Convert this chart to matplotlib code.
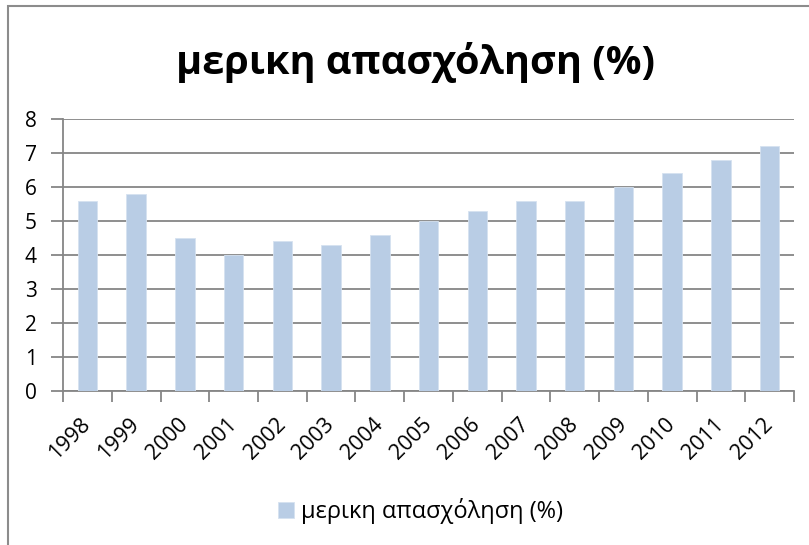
import numpy as np
import matplotlib.pyplot as plt
from matplotlib.patches import Rectangle

plt.rcParams['font.family'] = ['Open Sans', 'DejaVu Sans']

years = ['1998', '1999', '2000', '2001', '2002', '2003', '2004', '2005',
         '2006', '2007', '2008', '2009', '2010', '2011', '2012']
part_time = [5.6, 5.8, 4.5, 4.0, 4.4, 4.3, 4.6, 5.0,
             5.3, 5.6, 5.6, 6.0, 6.4, 6.8, 7.2]
series_name = 'μερικη απασχόληση (%)'

grid_col = '#868686'
bar_col = '#B9CDE5'

fig = plt.figure(figsize=(8.09, 5.45), dpi=100)
ax = fig.add_axes([0.078, 0.2826, 0.9035, 0.4991])

x = np.arange(len(years))
ax.bar(x, part_time, width=0.4, color=bar_col, edgecolor='#D6E2F0',
       linewidth=0.6, label=series_name, zorder=3)

ax.set_xlim(-0.5, len(years) - 0.5)
ax.set_ylim(0, 8)
ax.set_yticks(range(0, 9))
ax.yaxis.grid(True, color=grid_col, linewidth=1.3, zorder=0)

# labels at category centres, tick marks between categories
ax.set_xticks(x)
ax.set_xticklabels(years, rotation=45, ha='right', va='center',
                   rotation_mode='anchor', fontsize=15.5)
ax.set_xticks(np.arange(-0.5, len(years)), minor=True)
ax.tick_params(axis='x', which='major', length=0, pad=22)
ax.tick_params(axis='x', which='minor', length=8, width=1.3, color=grid_col)
ax.tick_params(axis='y', length=9, width=1.3, color=grid_col, pad=10,
               labelsize=15)

for side in ['top', 'right']:
    ax.spines[side].set_visible(False)
for side in ['left', 'bottom']:
    ax.spines[side].set_color(grid_col)
    ax.spines[side].set_linewidth(1.3)

fig.text(0.513, 0.886, series_name, ha='center', va='center',
         fontsize=28.5, fontweight='bold')

fig.legend(loc='center', bbox_to_anchor=(0.52, 0.062), frameon=False,
           fontsize=17, handlelength=0.65, handleheight=0.68,
           handletextpad=0.3)

# outer chart border
fig.patches.append(Rectangle((8 / 809, -0.1), 1.2, 1 - 6 / 545 + 0.1,
                             transform=fig.transFigure, fill=False,
                             edgecolor='#8C8C8C', linewidth=1.5))

fig.savefig('out.png', dpi=100)
